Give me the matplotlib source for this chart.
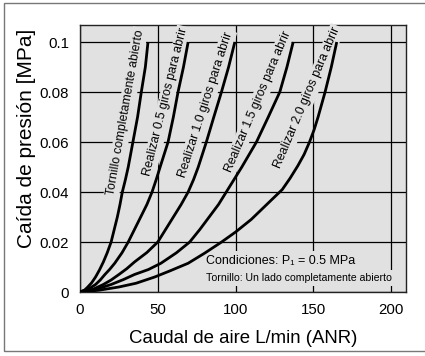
import matplotlib
matplotlib.use("Agg")
import matplotlib.pyplot as plt
from matplotlib import font_manager
from matplotlib.patches import Rectangle

# caudal (L/min ANR) vs caida de presion (MPa), one curve per screw setting
flow_open = [0, 3, 5, 7.5, 10, 12.5, 15, 17.5, 20, 22, 24, 25.7, 27.2, 29.2, 31, 34, 37, 39.4, 42, 43.7]
dp_open = [0, 0.0008, 0.002, 0.0037, 0.006, 0.0088, 0.012, 0.0157, 0.02, 0.025, 0.03, 0.035, 0.04,
           0.045, 0.05, 0.06, 0.07, 0.08, 0.09, 0.1]

flow_05 = [0, 5, 10, 13, 16, 19, 22.3, 27, 31, 35, 39, 43, 46.3, 49, 51.5, 56.6, 60, 63, 66.5, 69.5]
dp_05 = [0, 0.001, 0.003, 0.0048, 0.007, 0.009, 0.0115, 0.0157, 0.02, 0.025, 0.03, 0.035, 0.04,
         0.045, 0.05, 0.06, 0.07, 0.08, 0.09, 0.1]

flow_10 = [0, 8, 15, 20, 25, 30, 35, 43, 50, 55, 60, 65, 69.5, 73, 76, 81.2, 86, 90.9, 95.5, 99.5]
dp_10 = [0, 0.001, 0.003, 0.0048, 0.007, 0.0093, 0.012, 0.0158, 0.02, 0.025, 0.03, 0.035, 0.04,
         0.045, 0.05, 0.06, 0.07, 0.08, 0.09, 0.1]

flow_15 = [0, 10, 20, 28, 35, 44, 52, 62, 70.5, 77, 83, 89, 94, 99, 104, 113.4, 121, 128.4, 133, 137]
dp_15 = [0, 0.001, 0.003, 0.005, 0.007, 0.009, 0.0115, 0.0157, 0.02, 0.025, 0.03, 0.035, 0.04,
         0.045, 0.05, 0.06, 0.07, 0.08, 0.09, 0.1]

flow_20 = [0, 12, 25, 36, 48, 58, 69.5, 80, 91, 100, 110, 120, 130, 135, 140, 144, 147.5, 150.5,
           153, 157.5, 161.5, 165]
dp_20 = [0, 0.0007, 0.002, 0.0035, 0.006, 0.0085, 0.0115, 0.0155, 0.02, 0.024, 0.029, 0.035, 0.041,
         0.0455, 0.0505, 0.055, 0.06, 0.065, 0.07, 0.08, 0.09, 0.1]

labels = ["Tornillo completamente abierto",
          "Realizar 0.5 giros para abrir",
          "Realizar 1.0 giros para abrir",
          "Realizar 1.5 giros para abrir",
          "Realizar 2.0 giros para abrir"]
label_x = [29.5, 55.2, 80.8, 114.3, 146.3]
label_y = [0.072, 0.076, 0.075, 0.076, 0.0777]
label_rot = [80, 76, 72, 67, 67]

xticks = [0, 50, 100, 150, 200]
yticks = [0, 0.02, 0.04, 0.06, 0.08, 0.1]
yticklabels = ["0", "0.02", "0.04", "0.06", "0.08", "0.1"]

names = {f.name for f in font_manager.fontManager.ttflist}
narrow = "Liberation Sans Narrow" if "Liberation Sans Narrow" in names else "Liberation Sans"
plt.rcParams["font.family"] = ["Liberation Sans", "DejaVu Sans"]

bg = "#e1e1e1"

fig = plt.figure(figsize=(4.25, 3.56), dpi=100)
fig.patches.append(Rectangle((4 / 425, 1 - 351 / 356), 1.0, 348 / 356,
                             transform=fig.transFigure, fill=False,
                             edgecolor="#777777", lw=1.0))
ax = fig.add_axes([80 / 425, 1 - 292 / 356, 326 / 425, 267 / 356])
ax.set_facecolor(bg)

for fx, dy in [(flow_open, dp_open), (flow_05, dp_05), (flow_10, dp_10),
               (flow_15, dp_15), (flow_20, dp_20)]:
    ax.plot(fx, dy, color="black", lw=2.0, zorder=4, solid_capstyle="butt",
            solid_joinstyle="round")

for t, x, y, r in zip(labels, label_x, label_y, label_rot):
    ax.text(x, y, t, rotation=r, rotation_mode="anchor", ha="center", va="center",
            fontsize=8.8, family=[narrow, "DejaVu Sans"], zorder=3,
            bbox=dict(boxstyle="square,pad=0.15", fc=bg, ec="none"))

ax.text(81, 0.0124, "Condiciones: P\u2081 = 0.5 MPa", ha="left", va="center",
        fontsize=9, zorder=3, bbox=dict(boxstyle="square,pad=0.35", fc=bg, ec="none"))
ax.text(81, 0.0056, "Tornillo: Un lado completamente abierto", ha="left", va="center",
        fontsize=7.6, family=[narrow, "DejaVu Sans"], zorder=3,
        bbox=dict(boxstyle="square,pad=0.3", fc=bg, ec="none"))

ax.set_xlim(0, 209.5)
ax.set_ylim(0, 0.1068)
ax.set_xticks(xticks)
ax.set_yticks(yticks)
ax.set_yticklabels(yticklabels)
ax.tick_params(length=0, labelsize=10.8, pad=8)
ax.set_axisbelow(True)
ax.grid(True, color="black", lw=0.9)
for s in ax.spines.values():
    s.set_color("#222222")
    s.set_linewidth(1.0)

ax.set_xlabel("Caudal de aire L/min (ANR)", fontsize=13.4)
ax.set_ylabel("Caída de presión [MPa]", fontsize=15)
ax.xaxis.set_label_coords(0.5, -0.142)
ax.yaxis.set_label_coords(-0.135, 0.575)

fig.savefig("out.png", dpi=100)
